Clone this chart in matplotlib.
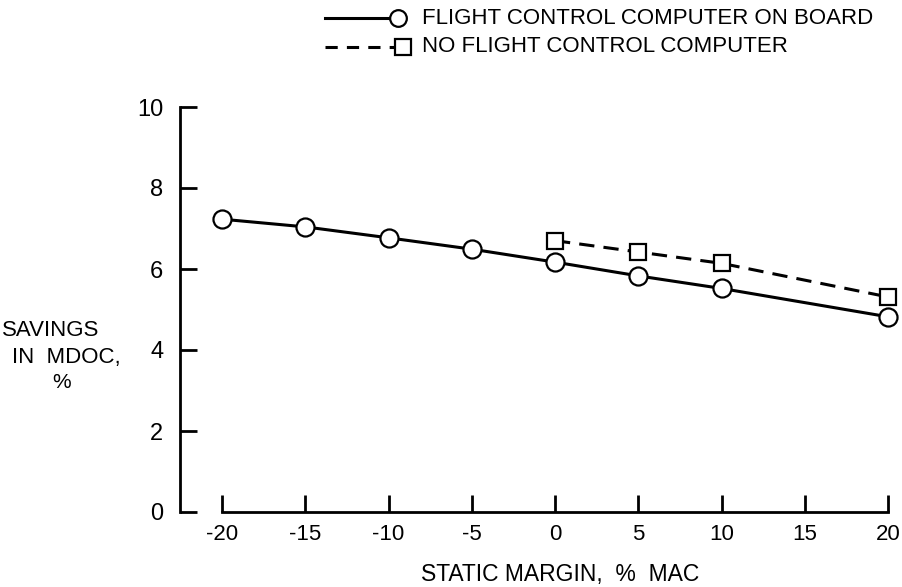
import matplotlib
matplotlib.use("Agg")
import matplotlib.pyplot as plt
from matplotlib.lines import Line2D

# static margin (% MAC) and savings in MDOC (%)
margin_fcc = [-20, -15, -10, -5, 0, 5, 10, 20]
savings_fcc = [7.23, 7.04, 6.77, 6.49, 6.17, 5.83, 5.52, 4.82]
margin_nofcc = [0, 5, 10, 20]
savings_nofcc = [6.70, 6.42, 6.14, 5.31]

xticks = [-20, -15, -10, -5, 0, 5, 10, 15, 20]
yticks = [0, 2, 4, 6, 8, 10]

W, H = 902, 587
fam = ['Liberation Sans', 'DejaVu Sans']

fig = plt.figure(figsize=(W / 100, H / 100), dpi=100)
# axes box in pixels: left 180, right 900, bottom 512, top 107
ax = fig.add_axes([180 / W, (H - 512) / H, 720 / W, 405 / H])
ax.set_xlim(-20 - 42 / 16.65, 20 + 12 / 16.65)
ax.set_ylim(0, 10)

ax.plot(margin_fcc, savings_fcc, '-', color='black', lw=2.2,
        marker='o', ms=13, mfc='white', mec='black', mew=1.6, clip_on=False, zorder=3)
ax.plot(margin_nofcc, savings_nofcc, '--', color='black', lw=2.2, dashes=(5, 3),
        marker='s', ms=12, mfc='white', mec='black', mew=1.6, clip_on=False, zorder=3)

for s in ['top', 'right']:
    ax.spines[s].set_visible(False)
ax.spines['left'].set_bounds(0, 10)
ax.spines['bottom'].set_bounds(-20, 20)
ax.spines['left'].set_linewidth(2)
ax.spines['bottom'].set_linewidth(2)

ax.set_xticks(xticks)
ax.set_yticks(yticks)
ax.set_xticklabels([str(v) for v in xticks], family=fam, fontsize=16)
ax.set_yticklabels([str(v) for v in yticks], family=fam, fontsize=17)
ax.tick_params(axis='both', direction='in', length=12, width=2)
ax.tick_params(axis='x', pad=9)
ax.tick_params(axis='y', pad=12)

def px(x, y):
    return x / W, 1 - y / H

fig.text(*px(560, 575), 'STATIC MARGIN,  %  MAC', ha='center', va='center',
         family=fam, fontsize=16.5)
fig.text(*px(2, 331), 'SAVINGS', ha='left', va='center', family=fam, fontsize=16)
fig.text(*px(12, 358), 'IN  MDOC,', ha='left', va='center', family=fam, fontsize=16)
fig.text(*px(62, 383), '%', ha='center', va='center', family=fam, fontsize=15)

# legend drawn in figure pixels
x0, y0 = px(325, 18)
x1, _ = px(398, 18)
fig.add_artist(Line2D([x0, x1], [y0, y0], color='black', lw=2.2, transform=fig.transFigure))
fig.add_artist(Line2D([x1], [y0], marker='o', ms=12, mfc='white', mec='black', mew=1.6,
                      transform=fig.transFigure))
fig.text(422 / W, y0, 'FLIGHT CONTROL COMPUTER ON BOARD', va='center', family=fam, fontsize=16)

x0, y1 = px(325, 47)
x1, _ = px(403, 47)
fig.add_artist(Line2D([x0, x1], [y1, y1], color='black', lw=2.2, ls='--', dashes=(4, 3),
                      transform=fig.transFigure))
fig.add_artist(Line2D([x1], [y1], marker='s', ms=11, mfc='white', mec='black', mew=1.6,
                      transform=fig.transFigure))
fig.text(422 / W, y1, 'NO FLIGHT CONTROL COMPUTER', va='center', family=fam, fontsize=16)

fig.savefig('out.png', dpi=100)
